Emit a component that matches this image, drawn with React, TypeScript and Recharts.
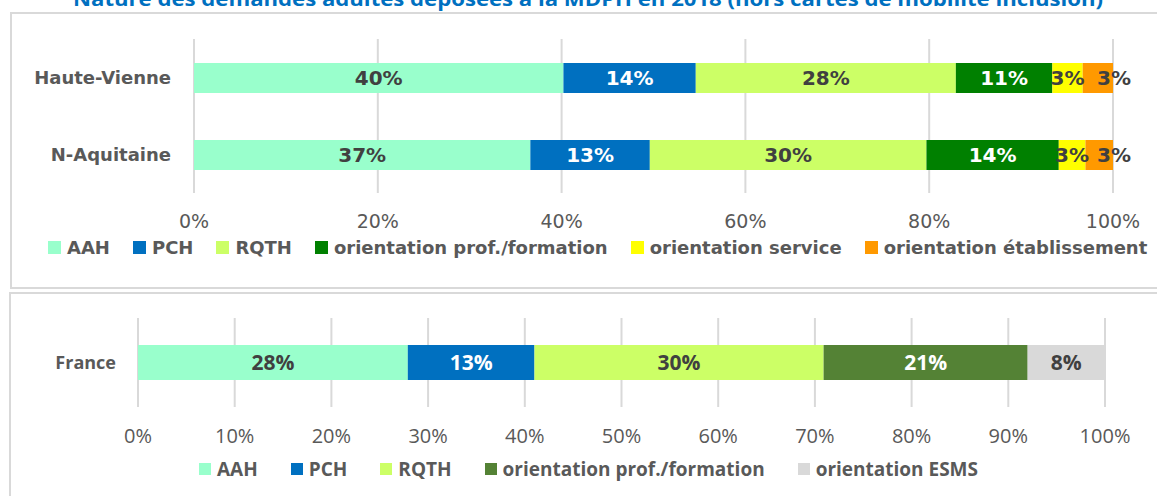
import React from "react";
import {
  BarChart,
  Bar,
  XAxis,
  YAxis,
  CartesianGrid,
  Legend,
  LabelList,
} from "recharts";

// Haute-Vienne / Nouvelle-Aquitaine (share of requests, %)
const regions = ["Haute-Vienne", "N-Aquitaine"];
const aah = [40.2, 36.6];
const pch = [14.4, 13.0];
const rqth = [28.3, 30.1];
const orientProf = [10.5, 14.4];
const orientService = [3.3, 2.9];
const orientEtab = [3.3, 3.0];
const topTicks = [0, 20, 40, 60, 80, 100];

// France
const nation = ["France"];
const frAah = [27.9];
const frPch = [13.1];
const frRqth = [29.9];
const frProf = [21.1];
const frEsms = [8.0];
const bottomTicks = [0, 10, 20, 30, 40, 50, 60, 70, 80, 90, 100];

const topOrder = ["aah", "pch", "rqth", "prof", "service", "etab"];
const bottomOrder = ["aah", "pch", "rqth", "prof", "esms"];

const title =
  "Nature des demandes adultes déposées à la MDPH en 2018 (hors cartes de mobilité inclusion)";

const topData = regions.map((name, i) => ({
  name,
  aah: aah[i],
  pch: pch[i],
  rqth: rqth[i],
  prof: orientProf[i],
  service: orientService[i],
  etab: orientEtab[i],
}));

const bottomData = nation.map((name, i) => ({
  name,
  aah: frAah[i],
  pch: frPch[i],
  rqth: frRqth[i],
  prof: frProf[i],
  esms: frEsms[i],
}));

const GREY = "#595959";
const DARK = "#404040";
const pct = (v: any) => Math.round(Number(v)) + "%";
const DEJAVU = "'DejaVu Sans', Verdana, sans-serif";
const OPEN = "'Open Sans', sans-serif";

const makeLegend =
  (order: string[], font: string, size: number, marker: number, markerGap: number, gap: number) =>
  (props: any) => {
    const items = [...(props.payload || [])].sort(
      (a: any, b: any) => order.indexOf(a.dataKey) - order.indexOf(b.dataKey)
    );
    return (
      <div
        style={{
          display: "flex",
          alignItems: "center",
          height: 24,
          fontFamily: font,
          fontSize: size,
          fontWeight: "bold",
          color: GREY,
          whiteSpace: "nowrap",
        }}
      >
        {items.map((it: any, i: number) => (
          <div
            key={it.value}
            style={{
              display: "flex",
              alignItems: "center",
              marginRight: i === items.length - 1 ? 0 : gap,
            }}
          >
            <span
              style={{
                width: marker,
                height: marker,
                background: it.color,
                marginRight: markerGap,
                display: "inline-block",
              }}
            />
            <span>{it.value}</span>
          </div>
        ))}
      </div>
    );
  };

function seg(
  key: string,
  name: string,
  fill: string,
  labelFill: string,
  font: string,
  size: number,
  barSize: number,
  labelPos: any = "center",
  labelOffset = 5
) {
  return (
    <Bar
      key={key}
      dataKey={key}
      name={name}
      stackId="a"
      fill={fill}
      barSize={barSize}
      isAnimationActive={false}
    >
      <LabelList
        dataKey={key}
        position={labelPos}
        offset={labelOffset}
        formatter={pct}
        fill={labelFill}
        fontFamily={font}
        fontSize={size}
        fontWeight="bold"
      />
    </Bar>
  );
}

export default function App() {
  return (
    <div
      style={{
        position: "absolute",
        left: 0,
        top: 0,
        width: 1157,
        height: 496,
        overflow: "hidden",
        background: "#fff",
      }}
    >
      <svg width={1157} height={20} style={{ position: "absolute", left: 0, top: 0 }}>
        <text
          x={73}
          y={6}
          textLength={1030}
          lengthAdjust="spacingAndGlyphs"
          fill="#0070C0"
          fontFamily={OPEN}
          fontWeight="bold"
          fontSize={20}
        >
          {title}
        </text>
      </svg>
      <div
        style={{
          position: "absolute",
          left: 10,
          top: 12,
          width: 1200,
          height: 277,
          boxSizing: "border-box",
          border: "2px solid #D9D9D9",
        }}
      />
      <div
        style={{
          position: "absolute",
          left: 9,
          top: 292,
          width: 1200,
          height: 300,
          boxSizing: "border-box",
          border: "2px solid #D9D9D9",
        }}
      />

      <div style={{ position: "absolute", left: 0, top: 0 }}>
        <BarChart
          layout="vertical"
          width={1157}
          height={280}
          data={topData}
          margin={{ top: 39, right: 44, left: 0, bottom: 47 }}
        >
          <CartesianGrid vertical horizontal={false} stroke="#D9D9D9" strokeWidth={2} />
          <XAxis
            type="number"
            domain={[0, 100]}
            ticks={topTicks}
            interval={0}
            tickFormatter={(v) => v + "%"}
            axisLine={false}
            tickLine={false}
            tickSize={0}
            tickMargin={22}
            height={40}
            tick={{ fill: GREY, fontSize: 19, fontFamily: DEJAVU }}
          />
          <YAxis
            type="category"
            dataKey="name"
            width={194}
            axisLine={false}
            tickLine={false}
            tickSize={0}
            tickMargin={23}
            tick={{ fill: GREY, fontSize: 18, fontWeight: "bold", fontFamily: DEJAVU }}
          />
          <Legend
            layout="horizontal"
            verticalAlign="middle"
            align="center"
            wrapperStyle={{ left: 48, top: 235, width: 1105 }}
            content={makeLegend(topOrder, DEJAVU, 18, 13, 6, 23)}
          />
          {seg("aah", "AAH", "#99FFCC", DARK, DEJAVU, 20, 30)}
          {seg("pch", "PCH", "#0070C0", "#FFFFFF", DEJAVU, 20, 30)}
          {seg("rqth", "RQTH", "#CCFF66", DARK, DEJAVU, 20, 30)}
          {seg("prof", "orientation prof./formation", "#008000", "#FFFFFF", DEJAVU, 20, 30)}
          {seg("service", "orientation service", "#FFFF00", DARK, DEJAVU, 20, 30)}
          {seg("etab", "orientation établissement", "#FF9900", DARK, DEJAVU, 20, 30, "right", -16)}
        </BarChart>
      </div>

      <div style={{ position: "absolute", left: 0, top: 290 }}>
        <BarChart
          layout="vertical"
          width={1157}
          height={206}
          data={bottomData}
          margin={{ top: 28, right: 52, left: 0, bottom: 49 }}
        >
          <CartesianGrid vertical horizontal={false} stroke="#D9D9D9" strokeWidth={2} />
          <XAxis
            type="number"
            domain={[0, 100]}
            ticks={bottomTicks}
            interval={0}
            tickFormatter={(v) => v + "%"}
            axisLine={false}
            tickLine={false}
            tickSize={0}
            tickMargin={22}
            height={40}
            tick={{ fill: GREY, fontSize: 20, fontFamily: OPEN }}
          />
          <YAxis
            type="category"
            dataKey="name"
            width={138}
            axisLine={false}
            tickLine={false}
            tickSize={0}
            tickMargin={22}
            tick={{ fill: GREY, fontSize: 18, fontWeight: "bold", fontFamily: OPEN }}
          />
          <Legend
            layout="horizontal"
            verticalAlign="middle"
            align="center"
            wrapperStyle={{ left: 199, top: 167, width: 900 }}
            content={makeLegend(bottomOrder, OPEN, 19, 12, 6, 33)}
          />
          {seg("aah", "AAH", "#99FFCC", DARK, OPEN, 21, 35)}
          {seg("pch", "PCH", "#0070C0", "#FFFFFF", OPEN, 21, 35)}
          {seg("rqth", "RQTH", "#CCFF66", DARK, OPEN, 21, 35)}
          {seg("prof", "orientation prof./formation", "#548235", "#FFFFFF", OPEN, 21, 35)}
          {seg("esms", "orientation ESMS", "#D9D9D9", DARK, OPEN, 21, 35)}
        </BarChart>
      </div>
    </div>
  );
}
